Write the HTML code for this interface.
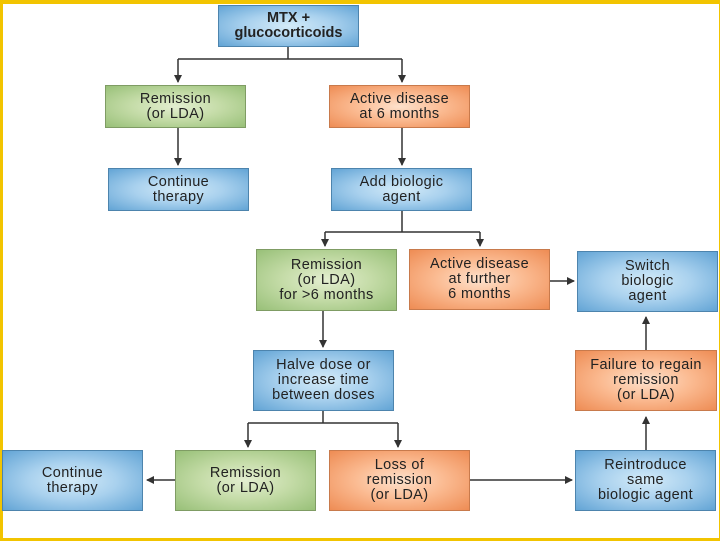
<!DOCTYPE html>
<html><head><style>
body{margin:0;width:720px;height:540px;background:#fff;position:relative;overflow:hidden;font-family:"Liberation Sans",sans-serif;}
.frame{position:absolute;left:0;top:0;width:716px;height:534px;border-left:3px solid #f2c400;border-right:2px solid #f2c400;border-top:4px solid #f2c400;border-bottom:3px solid #f2c400;}
.b{position:absolute;box-sizing:border-box;display:flex;align-items:center;justify-content:center;text-align:center;font-size:14.5px;line-height:15px;letter-spacing:0.4px;color:#222;border:1px solid #5a7a90;}
.bl{background:radial-gradient(ellipse at center,#d4ebf8 0%,#a9d1ee 45%,#62a4d5 100%);border-color:#4d84ad;}
.gr{background:radial-gradient(ellipse at center,#e3eed0 0%,#c5dca8 45%,#98c078 100%);border-color:#7f9c64;}
.or{background:radial-gradient(ellipse at center,#fde1cc 0%,#fbbb92 45%,#ee8c54 100%);border-color:#c87a4c;}
svg{position:absolute;left:0;top:0;}
</style></head><body>
<div class="frame"></div>
<svg width="720" height="540">
<defs><marker id="a" markerWidth="8" markerHeight="8" refX="7" refY="4" orient="auto" markerUnits="userSpaceOnUse"><path d="M0,0 L8,4 L0,8 z" fill="#333"/></marker></defs>
<g stroke="#333" stroke-width="1.5" fill="none">
<path d="M288,47 V59 M178,59 H402"/>
<path d="M178,59 V82" marker-end="url(#a)"/>
<path d="M402,59 V82" marker-end="url(#a)"/>
<path d="M178,127 V165" marker-end="url(#a)"/>
<path d="M402,127 V165" marker-end="url(#a)"/>
<path d="M402,211 V232 M325,232 H480"/>
<path d="M325,232 V246" marker-end="url(#a)"/>
<path d="M480,232 V246" marker-end="url(#a)"/>
<path d="M550,281 H574" marker-end="url(#a)"/>
<path d="M323,311 V347" marker-end="url(#a)"/>
<path d="M323,411 V423 M248,423 H398"/>
<path d="M248,423 V447" marker-end="url(#a)"/>
<path d="M398,423 V447" marker-end="url(#a)"/>
<path d="M175,480 H147" marker-end="url(#a)"/>
<path d="M470,480 H572" marker-end="url(#a)"/>
<path d="M646,450 V417" marker-end="url(#a)"/>
<path d="M646,350 V317" marker-end="url(#a)"/>
</g></svg>
<div class="b bl" style="left:218px;top:5px;width:141px;height:42px;font-weight:bold;letter-spacing:0;">MTX +<br>glucocorticoids</div>
<div class="b gr" style="left:105px;top:85px;width:141px;height:43px;">Remission<br>(or LDA)</div>
<div class="b or" style="left:329px;top:85px;width:141px;height:43px;">Active disease<br>at 6 months</div>
<div class="b bl" style="left:108px;top:168px;width:141px;height:43px;">Continue<br>therapy</div>
<div class="b bl" style="left:331px;top:168px;width:141px;height:43px;">Add biologic<br>agent</div>
<div class="b gr" style="left:256px;top:249px;width:141px;height:62px;">Remission<br>(or LDA)<br>for &gt;6 months</div>
<div class="b or" style="left:409px;top:249px;width:141px;height:61px;">Active disease<br>at further<br>6 months</div>
<div class="b bl" style="left:577px;top:251px;width:141px;height:61px;">Switch<br>biologic<br>agent</div>
<div class="b bl" style="left:253px;top:350px;width:141px;height:61px;">Halve dose or<br>increase time<br>between doses</div>
<div class="b or" style="left:575px;top:350px;width:142px;height:61px;">Failure to regain<br>remission<br>(or LDA)</div>
<div class="b bl" style="left:2px;top:450px;width:141px;height:61px;">Continue<br>therapy</div>
<div class="b gr" style="left:175px;top:450px;width:141px;height:61px;">Remission<br>(or LDA)</div>
<div class="b or" style="left:329px;top:450px;width:141px;height:61px;">Loss of<br>remission<br>(or LDA)</div>
<div class="b bl" style="left:575px;top:450px;width:141px;height:61px;">Reintroduce<br>same<br>biologic agent</div>
</body></html>
